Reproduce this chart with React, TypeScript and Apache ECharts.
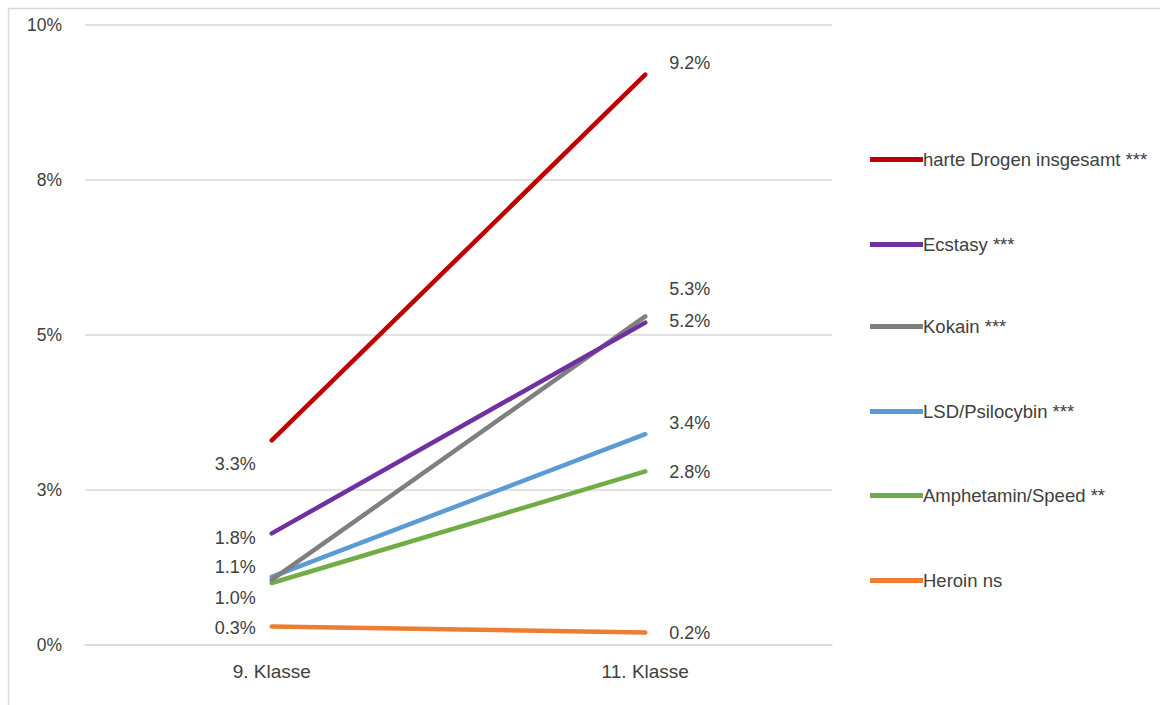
import React, { useEffect, useRef } from "react";
import * as echarts from "echarts";

const categories = ["9. Klasse", "11. Klasse"];
const seriesNames = [
  "harte Drogen insgesamt ***",
  "Ecstasy ***",
  "Kokain ***",
  "LSD/Psilocybin ***",
  "Amphetamin/Speed **",
  "Heroin ns",
];
const hardDrugs = [3.3, 9.2];
const ecstasy = [1.8, 5.2];
const cocaine = [1.05, 5.3];
const lsd = [1.1, 3.4];
const amphetamine = [1.0, 2.8];
const heroin = [0.3, 0.2];
const yTicks = [0, 2.5, 5, 7.5, 10];

const seriesValues = [hardDrugs, ecstasy, cocaine, lsd, amphetamine, heroin];
const colors = ["#c00000", "#7030a0", "#7f7f7f", "#5b9bd5", "#70ad47", "#ed7d31"];
// label offsets [left point, right point]; null = no label
const leftOffsets: (number | null)[] = [24, 5, null, -10, 15, 2];
const rightOffsets: (number | null)[] = [-12, -2, -27, -11, 1, 0];
const legendTops = [155, 240, 322, 407, 491, 576];

const FONT = "'Liberation Sans', Arial, sans-serif";
const TXT = "#404040";

export default function App() {
  const ref = useRef<HTMLDivElement>(null);
  useEffect(() => {
    if (!ref.current) return;
    const chart = echarts.init(ref.current, undefined, { renderer: "svg" });
    const series = seriesNames.map((name, i) => ({
      name,
      type: "line",
      data: seriesValues[i].map((v, j) => {
        const off = j === 0 ? leftOffsets[i] : rightOffsets[i];
        return {
          value: v,
          label:
            off === null
              ? { show: false }
              : {
                  show: true,
                  position: j === 0 ? "left" : "right",
                  distance: j === 0 ? 16 : 24,
                  offset: [0, off],
                },
        };
      }),
      symbol: "circle",
      symbolSize: 0,
      showSymbol: true,
      lineStyle: { width: 4.5, color: colors[i], cap: "round" },
      itemStyle: { color: colors[i] },
      label: {
        formatter: (p: any) => p.value.toFixed(1) + "%",
        fontSize: 18,
        color: TXT,
        fontFamily: FONT,
      },
      z: 10 - i,
    }));
    const legends = seriesNames.map((name, i) => ({
      data: [name],
      left: 865,
      top: legendTops[i] - 10,
      orient: "vertical",
      icon: "rect",
      itemWidth: 53,
      itemHeight: 5,
      itemGap: 0,
      selectedMode: false,
      textStyle: { fontSize: 18.5, color: TXT, fontFamily: FONT, padding: [0, 0, 0, -5] },
    }));
    chart.setOption({
      animation: false,
      color: colors,
      grid: { left: 85, right: 328, top: 25, bottom: 60 },
      legend: legends,
      xAxis: {
        type: "category",
        data: categories,
        boundaryGap: true,
        axisLine: { show: true, lineStyle: { color: "#d9d9d9", width: 1.5 } },
        axisTick: { show: false },
        axisLabel: { fontSize: 19, color: TXT, fontFamily: FONT, margin: 17 },
      },
      yAxis: {
        type: "value",
        min: yTicks[0],
        max: yTicks[yTicks.length - 1],
        interval: yTicks[1] - yTicks[0],
        axisLine: { show: false },
        axisTick: { show: false },
        splitLine: { lineStyle: { color: "#d9d9d9", width: 1.5 } },
        axisLabel: {
          fontSize: 17.5,
          color: TXT,
          fontFamily: FONT,
          margin: 23,
          formatter: (v: number) => Math.round(v) + "%",
        },
      },
      graphic: [
        { type: "line", shape: { x1: 8, y1: 8.5, x2: 1160, y2: 8.5 }, style: { stroke: "#d9d9d9", lineWidth: 1.5 } },
        { type: "line", shape: { x1: 8.5, y1: 8, x2: 8.5, y2: 705 }, style: { stroke: "#d9d9d9", lineWidth: 1.5 } },
      ],
      series,
    });
    return () => chart.dispose();
  }, []);
  return (
    <div
      ref={ref}
      style={{ position: "fixed", left: 0, top: 0, width: 1160, height: 705, background: "#fff" }}
    />
  );
}
